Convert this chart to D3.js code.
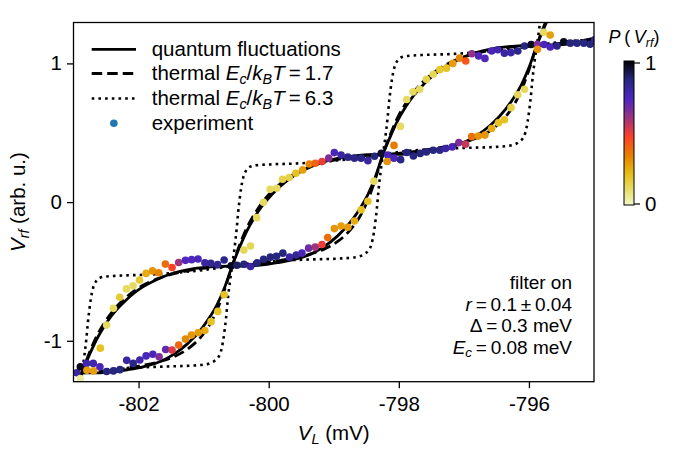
<!DOCTYPE html>
<html><head><meta charset="utf-8">
<script src="https://cdn.jsdelivr.net/npm/d3@7"></script>
<style>
body{margin:0;background:#fff;}
text{font-family:"Liberation Sans",Arial,Helvetica,sans-serif;fill:#000;}
</style>
</head><body>
<svg id="chart" width="675" height="450"></svg>
<script>
// ---------- data ----------
const xTicks = [-802, -800, -798, -796];
const yTicks = [-1, 0, 1];
const cbTicks = [0, 1];

// crossing points of the two sweep branches
const nodeX = [-805.16, -802.87, -800.562, -798.244, -795.878, -793.51];
const nodeY = [-2.0, -1.232, -0.461, 0.344, 1.131, 1.92];

// arc shapes between crossings, relative coordinates (t along V_L, s along V_rf)
const quantumUpperT = [0,0.05,0.1,0.15,0.2,0.25,0.3,0.35,0.4,0.5,0.6,0.7,0.8,0.9,1];
const quantumUpperS = [0,0.17,0.32,0.44,0.54,0.62,0.69,0.75,0.8,0.875,0.93,0.965,0.985,0.997,1];
const quantumLowerT = [0,0.1,0.2,0.3,0.4,0.5,0.6,0.7,0.8,0.85,0.9,0.95,1];
const quantumLowerS = [0,0,0.01,0.03,0.055,0.095,0.165,0.27,0.42,0.52,0.64,0.8,1];

const thermal17UpperT = [0,0.05,0.1,0.15,0.2,0.25,0.3,0.35,0.4,0.5,0.6,0.7,0.8,0.9,1];
const thermal17UpperS = [0,0.19,0.35,0.47,0.57,0.65,0.715,0.77,0.815,0.88,0.925,0.955,0.978,0.992,1];
const thermal17LowerT = [0,0.1,0.2,0.3,0.4,0.5,0.6,0.7,0.8,0.85,0.9,0.95,1];
const thermal17LowerS = [0,0.01,0.025,0.045,0.07,0.1,0.145,0.22,0.35,0.45,0.59,0.78,1];

const thermal63UpperT = [0,0.015,0.03,0.04,0.05,0.06,0.075,0.095,0.12,0.16,0.25,0.45,0.65,0.85,1];
const thermal63UpperS = [0,0.15,0.33,0.48,0.6,0.7,0.8,0.86,0.89,0.902,0.91,0.92,0.94,0.97,1];
const thermal63LowerT = [0,0.15,0.35,0.55,0.75,0.84,0.88,0.905,0.925,0.94,0.95,0.96,0.97,0.985,1];
const thermal63LowerS = [0,0.03,0.05,0.06,0.07,0.085,0.11,0.14,0.2,0.3,0.4,0.52,0.67,0.85,1];

// experiment points
const expX = [-802.95,-802.895,-802.895,-802.80,-802.696,-802.795,-802.691,-802.594,-802.491,-802.387,-802.286,
 -802.588,-802.491,-802.387,-802.290,-802.187,-802.085,-801.986,-801.884,-801.785,-801.691,-801.588,-801.485,-801.383,-801.279,-801.184,-801.086,-800.981,-800.889,-800.785,-800.685,-800.577,-800.488,-800.381,-800.279,-800.179,-800.079,-799.975,-799.880,-799.782,-799.679,-799.577,-799.489,-799.386,-799.284,-799.181,-799.093,-798.991,-798.887,-798.784,-798.682,-798.579,-798.475,-798.383,
 -802.182,-802.082,-801.981,-801.884,-801.781,-801.684,-801.583,-801.485,-801.383,-801.279,-801.187,-801.083,-800.981,-800.886,-800.782,-800.685,
 -800.381,-800.279,-800.184,-800.080,-799.978,-799.875,-799.787,-799.685,-799.582,-799.478,-799.377,-799.284,-799.181,-799.077,-798.991,-798.887,-798.784,-798.682,-798.579,-798.475,-798.373,-798.270,-798.170,-798.178,-798.074,-798.074,-797.972,
 -797.977,-797.880,-797.781,-797.679,-797.576,-797.472,-797.370,-797.267,-797.170,-797.066,-796.971,-796.877,-796.773,-796.676,-796.573,-796.480,-796.377,-796.275,-796.171,-796.068,-795.966,-795.869,-795.869,-795.767,-795.673,-795.569,-795.466,-795.364,-795.261,-795.157,-795.060,-794.988,-795.775,-795.673,
 -797.877,-797.776,-797.671,-797.576,-797.472,-797.370,-797.282,-797.179,-797.077,-796.974,-796.881,-796.778,-796.676,-796.573,-796.469,-796.377,-796.275,-796.171,-796.068];
const expY = [-1.23,-1.188,-1.273,-1.163,-1.163,-1.213,-1.217,-1.188,-1.221,-1.217,-1.208,
 -1.053,-0.887,-0.766,-0.686,-0.626,-0.604,-0.562,-0.514,-0.496,-0.509,-0.447,-0.472,-0.436,-0.420,-0.415,-0.410,-0.438,-0.442,-0.451,-0.418,-0.460,-0.455,-0.448,-0.464,-0.438,-0.412,-0.397,-0.391,-0.368,-0.397,-0.382,-0.368,-0.332,-0.325,-0.306,-0.256,-0.191,-0.172,-0.181,-0.136,-0.056,0.006,0.151,
 -1.141,-1.163,-1.139,-1.109,-1.097,-1.115,-1.063,-1.067,-1.031,-0.988,-0.959,-0.941,-0.926,-0.862,-0.788,-0.668,
 -0.346,-0.317,-0.112,-0.001,0.093,0.100,0.165,0.177,0.208,0.232,0.275,0.280,0.292,0.317,0.357,0.340,0.324,0.317,0.317,0.299,0.331,0.351,0.339,0.293,0.317,0.409,0.306,
 0.546,0.740,0.795,0.813,0.885,0.921,0.955,0.966,1.000,1.038,1.017,1.070,1.054,1.036,1.089,1.099,1.074,1.078,1.089,1.126,1.136,1.137,1.102,1.136,1.118,1.126,1.156,1.146,1.146,1.146,1.138,1.171,1.225,1.204,
 0.358,0.332,0.351,0.362,0.374,0.374,0.386,0.398,0.429,0.417,0.472,0.476,0.483,0.531,0.572,0.594,0.681,0.774,0.814];
const expP = [0.8,0.97,0.05,0.78,0.78,0.28,0.28,0.75,0.87,0.87,0.87,
 0.2,0.12,0.12,0.17,0.12,0.12,0.18,0.25,0.3,0.33,0.38,0.47,0.6,0.73,0.73,0.75,0.8,0.83,0.83,0.85,0.97,0.9,0.87,0.8,0.87,0.87,0.87,0.87,0.87,0.8,0.83,0.75,0.68,0.6,0.5,0.38,0.3,0.28,0.28,0.25,0.2,0.2,0.12,
 0.8,0.85,0.78,0.75,0.75,0.65,0.7,0.52,0.4,0.32,0.3,0.28,0.25,0.2,0.2,0.2,
 0.13,0.13,0.12,0.12,0.12,0.12,0.15,0.15,0.2,0.28,0.33,0.4,0.5,0.65,0.75,0.8,0.85,0.85,0.85,0.8,0.87,0.95,0.75,0.3,0.75,0.35,0.85,
 0.12,0.12,0.12,0.12,0.14,0.13,0.18,0.2,0.28,0.33,0.43,0.62,0.73,0.73,0.75,0.77,0.8,0.8,0.85,0.87,0.97,0.65,0.3,0.75,0.75,0.85,0.97,0.87,0.87,0.87,0.87,0.8,0.12,0.27,
 0.87,0.87,0.87,0.87,0.87,0.85,0.8,0.75,0.65,0.55,0.38,0.3,0.3,0.25,0.2,0.2,0.15,0.13,0.13];

// ---------- colormap (CMRmap, reversed) ----------
const cmR = [0,0.15,0.30,0.60,1.00,0.90,0.90,0.90,1.00];
const cmG = [0,0.15,0.15,0.20,0.25,0.50,0.75,0.90,1.00];
const cmB = [0,0.50,0.75,0.50,0.15,0.00,0.10,0.50,1.00];
function pColor(p){
  const c = Math.max(0, Math.min(1, 1 - p)) * 0.95;
  const pos = c * 8; const i = Math.min(7, Math.floor(pos)); const f = pos - i;
  const lerp = a => 255 * (a[i] + (a[i+1] - a[i]) * f);
  return d3.rgb(lerp(cmR), lerp(cmG), lerp(cmB)).formatHex();
}

// ---------- layout ----------
const L = 73.5, R = 594, T = 22.5, B = 381.7;
const svg = d3.select("#chart");
const x = d3.scaleLinear().domain([-803, -795]).range([L, R]);
const y = d3.scaleLinear().domain([-1.295, 1.295]).range([B, T]);

svg.append("defs").append("clipPath").attr("id","plotclip")
  .append("rect").attr("x",L).attr("y",T).attr("width",R-L).attr("height",B-T);

// build branches
function arc(k, tArr, sArr){
  const x0=nodeX[k], x1=nodeX[k+1], y0=nodeY[k], y1=nodeY[k+1];
  return tArr.map((t,i)=>[x0 + t*(x1-x0), y0 + sArr[i]*(y1-y0)]);
}
function branches(uT,uS,lT,lS){
  const A=[], Bb=[];
  for(let k=0;k<nodeX.length-1;k++){
    const up = arc(k,uT,uS), lo = arc(k,lT,lS);
    const a = (k%2===0)? lo : up;
    const b = (k%2===0)? up : lo;
    (k===0? a : a.slice(1)).forEach(p=>A.push(p));
    (k===0? b : b.slice(1)).forEach(p=>Bb.push(p));
  }
  return [A,Bb];
}
const line = d3.line().x(d=>x(d[0])).y(d=>y(d[1])).curve(d3.curveMonotoneX);

const curves = [
  {br: branches(thermal63UpperT,thermal63UpperS,thermal63LowerT,thermal63LowerS), w:2.6, dash:"2.6,4.1"},
  {br: branches(thermal17UpperT,thermal17UpperS,thermal17LowerT,thermal17LowerS), w:2.8, dash:"10.5,5"},
  {br: branches(quantumUpperT,quantumUpperS,quantumLowerT,quantumLowerS), w:2.8, dash:null}
];
const gC = svg.append("g").attr("clip-path","url(#plotclip)");
curves.forEach(c=>{
  c.br.forEach(b=>{
    gC.append("path").attr("d", line(b)).attr("fill","none").attr("stroke","#000")
      .attr("stroke-width", c.w).attr("stroke-dasharray", c.dash);
  });
});

// experiment dots
const gD = svg.append("g").attr("clip-path","url(#plotclip)");
gD.selectAll("circle").data(expX.map((v,i)=>({x:v,y:expY[i],p:expP[i]}))).enter()
  .append("circle").attr("cx",d=>x(d.x)).attr("cy",d=>y(d.y)).attr("r",3.8)
  .attr("fill",d=>pColor(d.p));

// frame
svg.append("rect").attr("x",L).attr("y",T).attr("width",R-L).attr("height",B-T)
  .attr("fill","none").attr("stroke","#000").attr("stroke-width",1.3);

// axes
const fs = 20.5;
const xAxis = svg.append("g").attr("transform",`translate(0,${B})`)
  .call(d3.axisBottom(x).tickValues(xTicks).tickSize(6.5).tickPadding(5).tickFormat(d=>d.toString()));
const yAxis = svg.append("g").attr("transform",`translate(${L},0)`)
  .call(d3.axisLeft(y).tickValues(yTicks).tickSize(6.5).tickPadding(5).tickFormat(d=>d.toString()));
[xAxis,yAxis].forEach(a=>{
  a.select(".domain").remove();
  a.selectAll(".tick line").attr("stroke","#000").attr("stroke-width",1.3);
  a.selectAll(".tick text").attr("font-size",fs).attr("font-family","Liberation Sans, Arial, sans-serif").attr("fill","#000");
});
xAxis.selectAll(".tick text").attr("dy","0.85em");

// axis labels
const xl = svg.append("text").attr("x",(L+R)/2).attr("y",440).attr("text-anchor","middle").attr("font-size",fs);
xl.append("tspan").attr("font-style","italic").text("V");
xl.append("tspan").attr("font-style","italic").attr("font-size",fs*0.7).attr("dy",4).text("L");
xl.append("tspan").attr("dy",-4).text(" (mV)");

const yl = svg.append("text").attr("transform",`translate(25,${(T+B)/2}) rotate(-90)`).attr("text-anchor","middle").attr("font-size",fs);
yl.append("tspan").attr("font-style","italic").text("V");
yl.append("tspan").attr("font-style","italic").attr("font-size",fs*0.7).attr("dy",4).text("rf");
yl.append("tspan").attr("dy",-4).text(" (arb. u.)");

// legend
const legY = [49.3, 73.5, 98.5, 123.3];
const lx0 = 91.7, lx1 = 136, tx = 151.7;
const gL = svg.append("g");
[[null,2.8],["10.5,5",2.8],["2.6,4.1",2.6]].forEach((s,i)=>{
  gL.append("line").attr("x1",lx0).attr("x2",lx1).attr("y1",legY[i]).attr("y2",legY[i])
    .attr("stroke","#000").attr("stroke-width",s[1]).attr("stroke-dasharray",s[0]);
});
gL.append("circle").attr("cx",(lx0+lx1)/2).attr("cy",legY[3]).attr("r",3.8).attr("fill","#1f77b4");
function legText(i, parts){
  const t = gL.append("text").attr("x",tx).attr("y",legY[i]+6.8).attr("font-size",fs);
  parts.forEach(p=>{
    const s = t.append("tspan").text(p.t);
    if(p.i) s.attr("font-style","italic");
    if(p.sub){ s.attr("font-size",fs*0.7).attr("dy",4); }
    if(p.up) s.attr("dy",-4);
  });
}
legText(0,[{t:"quantum fluctuations"}]);
legText(1,[{t:"thermal "},{t:"E",i:1},{t:"c",i:1,sub:1},{t:"/",up:1},{t:"k",i:1},{t:"B",i:1,sub:1},{t:"T",i:1,up:1},{t:"\u2009=\u20091.7"}]);
legText(2,[{t:"thermal "},{t:"E",i:1},{t:"c",i:1,sub:1},{t:"/",up:1},{t:"k",i:1},{t:"B",i:1,sub:1},{t:"T",i:1,up:1},{t:"\u2009=\u20096.3"}]);
legText(3,[{t:"experiment"}]);

// annotation
const annX = 572;
const afs = 19;
const annBase = [289, 310.5, 332, 353.5];
function annText(i, parts){
  const t = svg.append("text").attr("x",annX).attr("y",annBase[i]).attr("text-anchor","end").attr("font-size",afs);
  parts.forEach(p=>{
    const s = t.append("tspan").text(p.t);
    if(p.i) s.attr("font-style","italic");
    if(p.sub){ s.attr("font-size",afs*0.7).attr("dy",3.5); }
    if(p.up) s.attr("dy",-3.5);
  });
}
annText(0,[{t:"filter on"}]);
annText(1,[{t:"r",i:1},{t:"\u2009=\u20090.1\u2009\u00b1\u20090.04"}]);
annText(2,[{t:"\u0394\u2009=\u20090.3 meV"}]);
annText(3,[{t:"E",i:1},{t:"c",i:1,sub:1},{t:"\u2009=\u20090.08 meV",up:1}]);

// colorbar
const cbX = 624, cbW = 10, cbTop = 61, cbBot = 205;
const cy = d3.scaleLinear().domain([0,1]).range([cbBot-1.5, cbTop+1.5]);
const grad = svg.select("defs").append("linearGradient").attr("id","cbgrad")
  .attr("x1",0).attr("y1",1).attr("x2",0).attr("y2",0);
d3.range(0,1.0001,0.02).forEach(v=>grad.append("stop").attr("offset",v).attr("stop-color",pColor(v)));
svg.append("rect").attr("x",cbX).attr("y",cbTop).attr("width",cbW).attr("height",cbBot-cbTop)
  .attr("fill","url(#cbgrad)").attr("stroke","#000").attr("stroke-width",1);
const cbAxis = svg.append("g").attr("transform",`translate(${cbX+cbW},0)`)
  .call(d3.axisRight(cy).tickValues(cbTicks).tickSize(6).tickPadding(5).tickFormat(d=>d.toString()));
cbAxis.select(".domain").remove();
cbAxis.selectAll(".tick line").attr("stroke","#000").attr("stroke-width",1.2);
cbAxis.selectAll(".tick text").attr("font-size",fs).attr("font-family","Liberation Sans, Arial, sans-serif").attr("fill","#000");

const ct = svg.append("text").attr("x",cbX+cbW/2+5).attr("y",43).attr("text-anchor","middle").attr("font-size",18);
ct.append("tspan").attr("font-style","italic").text("P");
ct.append("tspan").text("\u2009(\u2009");
ct.append("tspan").attr("font-style","italic").text("V");
ct.append("tspan").attr("font-style","italic").attr("font-size",12.5).attr("dy",4).text("rf");
ct.append("tspan").attr("dy",-4).text(")");
</script>
</body></html>
